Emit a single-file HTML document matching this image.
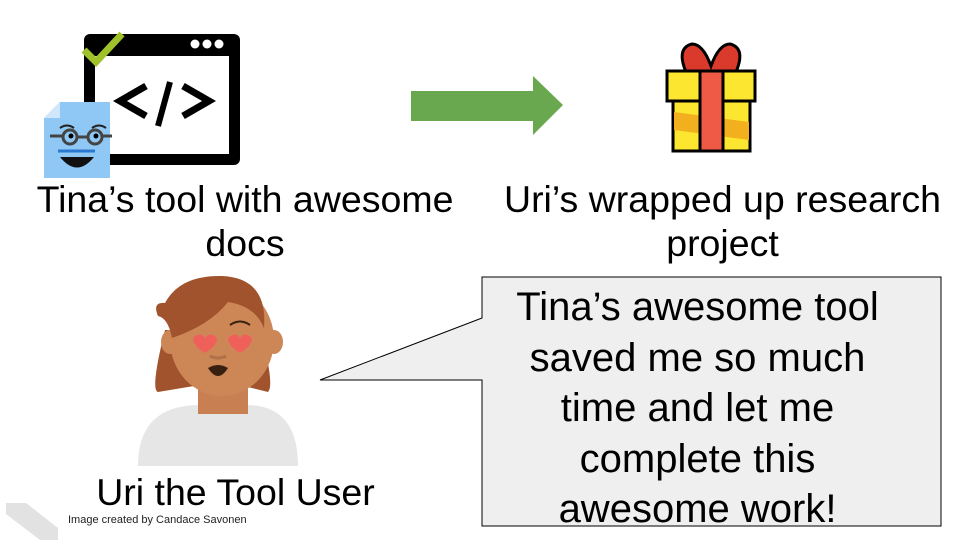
<!DOCTYPE html>
<html><head><meta charset="utf-8"><style>
html,body{margin:0;padding:0;background:#fff}
#c{position:relative;width:960px;height:540px;overflow:hidden;font-family:"Liberation Sans",sans-serif;color:#000}
.t{position:absolute;text-align:center;font-size:37.5px;line-height:44px;white-space:nowrap}
</style></head><body><div id="c">
<svg width="960" height="540" style="position:absolute;left:0;top:0">
  <rect x="84" y="34" width="156" height="131" rx="6" fill="#000"/>
  <rect x="95" y="56" width="134" height="98" fill="#fff"/>
  <circle cx="195" cy="44" r="4.5" fill="#fff"/><circle cx="207" cy="44" r="4.5" fill="#fff"/><circle cx="219" cy="44" r="4.5" fill="#fff"/>
  <path d="M146 86 L120 101 L146 116" stroke="#000" stroke-width="7" fill="none"/>
  <path d="M183 86 L209 101 L183 116" stroke="#000" stroke-width="7" fill="none"/>
  <path d="M170 82 L158 126" stroke="#000" stroke-width="6"/>
  <path d="M84 50 L96 62 L122 34" stroke="#9fc12a" stroke-width="7" fill="none"/>
  <path d="M44 118 L60 102 L110 102 L110 178 L44 178 Z" fill="#8fc8f5"/>
  <path d="M44 118 L60 102 L60 118 Z" fill="#cfe6fb"/>
  <path d="M60 128 q7-5 14 0 M92 128 q7-5 14 0" stroke="#222" stroke-width="2" fill="none"/>
  <circle cx="70" cy="137" r="7" fill="none" stroke="#444" stroke-width="3"/>
  <circle cx="95" cy="137" r="7" fill="none" stroke="#444" stroke-width="3"/>
  <path d="M50 136 L63 136 M77 137 L88 137 M102 136 L112 136" stroke="#444" stroke-width="3"/>
  <circle cx="71" cy="136" r="2.5" fill="#000"/><circle cx="96" cy="136" r="2.5" fill="#000"/>
  <path d="M58 151 L95 151" stroke="#2a78d0" stroke-width="3"/>
  <path d="M60 157 Q77 178 94 157 Z" fill="#111"/>
  <path d="M411 91 L533 91 L533 76 L563 105 L533 135 L533 121 L411 121 Z" fill="#6aa84f"/>
  <path d="M686 72 Q676 48 692 44 Q703 44 711 66 Q719 44 730 44 Q746 48 736 72 Z" fill="#d93a2b" stroke="#000" stroke-width="3"/>
  <rect x="667" y="71" width="88" height="30" fill="#fde62f" stroke="#000" stroke-width="3"/>
  <rect x="673" y="101" width="77" height="50" fill="#fde62f" stroke="#000" stroke-width="3"/>
  <path d="M674 112 L749 122 L749 140 L674 130Z" fill="#f2b01e"/>
  <rect x="700" y="71" width="23" height="80" fill="#ee5a45" stroke="#000" stroke-width="3"/>
  <path d="M138 466 Q138 405 200 405 L246 405 Q298 405 298 466 Z" fill="#e6e6e6"/>
  <rect x="198" y="380" width="50" height="34" fill="#c87f52"/>
  <path d="M165 330 Q150 390 158 392 L200 385 L180 330 Z" fill="#a0532c"/>
  <path d="M260 330 Q275 385 268 392 L240 385 L255 330 Z" fill="#a0532c"/>
  <ellipse cx="222" cy="340" rx="52" ry="56" fill="#cd8757"/>
  <ellipse cx="170" cy="342" rx="9" ry="12" fill="#cd8757"/><ellipse cx="274" cy="342" rx="9" ry="12" fill="#cd8757"/>
  <path d="M158 316 Q152 302 165 303 Q180 275 222 276 Q268 278 264 328 Q255 306 228 302 Q210 325 172 338 Q168 318 158 316 Z" fill="#a0532c"/>
  <path d="M193 338 q7-7 12 0 q5-7 12 0 q0 8-12 15 q-12-7-12-15Z" fill="#f0605a"/>
  <path d="M228 338 q7-7 12 0 q5-7 12 0 q0 8-12 15 q-12-7-12-15Z" fill="#f0605a"/>
  <path d="M230 325 q10-7 20 0" stroke="#3a2010" stroke-width="2" fill="none"/>
  <path d="M208 368 Q218 362 228 368 Q218 384 208 368Z" fill="#3a2010"/>
  <path d="M210 356 q8 4 16 0" stroke="#b0704a" stroke-width="3" fill="none"/>
  <path d="M482 277 L941 277 L941 526 L482 526 L482 380 L320 380 L482 318 Z" fill="#efefef" stroke="#000" stroke-width="1"/>
  <path d="M6 503 L26 503 L58 528 L58 540 L40 540 L6 514 Z" fill="#e2e2e2"/>
</svg>
<div class="t" style="left:20px;top:177px;width:450px">Tina’s tool with awesome<br>docs</div>
<div class="t" style="left:495px;top:177px;width:455px">Uri’s wrapped up research<br>project</div>
<div class="t" style="left:48px;top:470px;width:375px">Uri the Tool User</div>
<div class="t" style="left:468px;top:282px;width:459px;font-size:40px;line-height:50.5px">Tina’s awesome tool<br>saved me so much<br>time and let me<br>complete this<br>awesome work!</div>
<div style="position:absolute;left:68px;top:514px;font-size:11px;color:#222">Image created by Candace Savonen</div>
</div></body></html>
